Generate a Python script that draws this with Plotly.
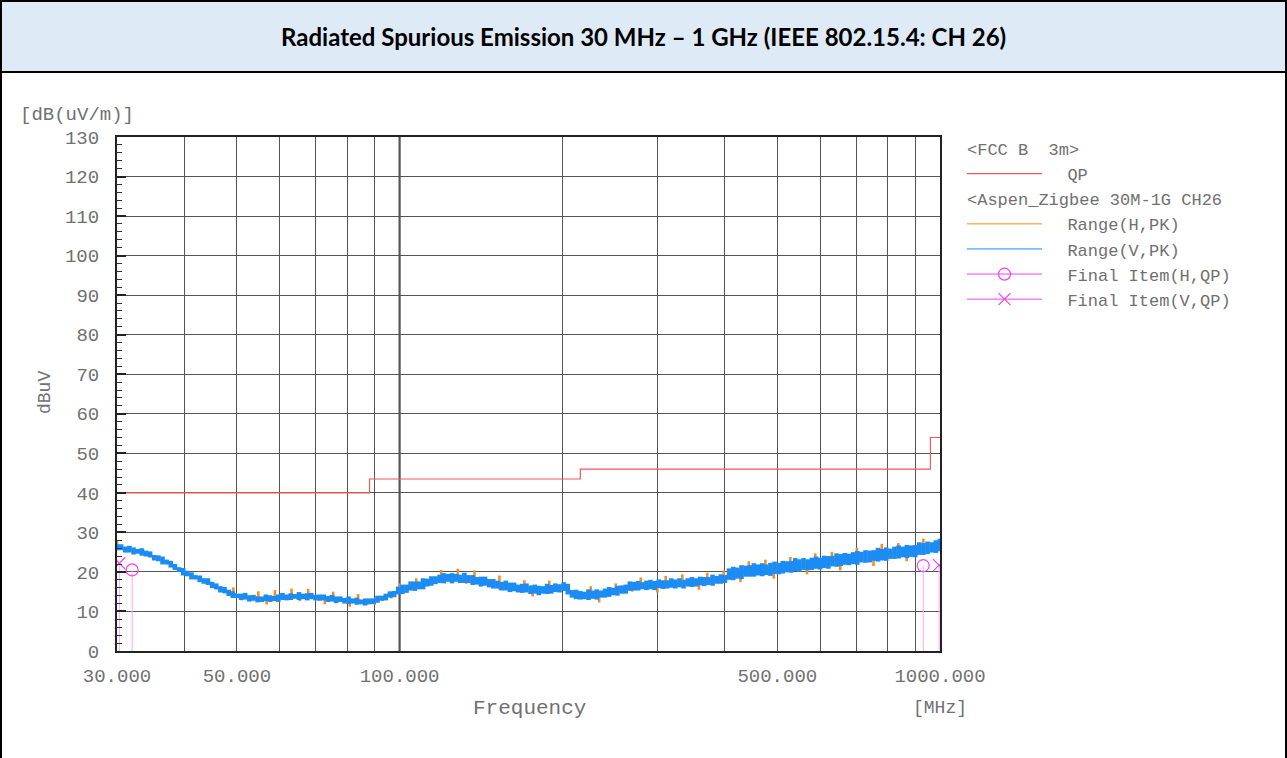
import numpy as np
import plotly.graph_objects as go

# ---------------- data ----------------
sweep_start_mhz = 30.0
sweep_stop_mhz = 1000.0

# Range(V,PK): per display bin max / min (dBuV), bins log-spaced 30 MHz .. 1 GHz
v_pk_max = [
    27.0, 27.0, 26.4, 26.6, 26.2, 25.8, 26.0, 25.4, 25.2, 24.3,
    24.2, 23.9, 23.1, 22.8, 22.0, 21.2, 21.0, 20.3, 19.9, 19.2,
    19.1, 18.4, 18.4, 17.5, 17.1, 16.4, 16.2, 15.5, 15.1, 14.5,
    14.5, 14.7, 14.1, 14.2, 13.8, 13.8, 14.3, 14.1, 13.9, 14.3,
    14.7, 14.3, 14.6, 14.4, 14.9, 14.5, 14.6, 14.7, 14.2, 14.3,
    14.3, 13.9, 14.2, 13.8, 13.8, 13.4, 13.8, 13.3, 13.5, 13.0,
    13.3, 13.3, 13.3, 14.0, 14.0, 14.5, 15.1, 15.2, 16.3, 16.8,
    16.8, 17.6, 17.6, 17.6, 18.4, 18.3, 18.9, 18.9, 19.3, 19.7,
    19.5, 19.7, 19.5, 19.3, 19.8, 19.2, 19.2, 18.7, 18.8, 18.8,
    18.2, 18.2, 17.8, 17.5, 17.8, 17.3, 17.3, 16.8, 17.0, 17.1,
    16.6, 16.8, 16.5, 16.4, 17.0, 16.7, 17.1, 16.9, 17.4, 17.0,
    15.4, 15.5, 15.2, 15.0, 15.6, 15.3, 15.6, 15.3, 15.8, 16.2,
    16.0, 16.5, 16.6, 16.8, 17.6, 17.5, 17.7, 17.4, 17.8, 18.0,
    17.7, 18.1, 17.9, 17.9, 18.4, 18.1, 18.4, 18.0, 18.4, 18.7,
    18.4, 18.8, 18.7, 18.7, 19.3, 19.0, 19.4, 19.2, 20.9, 21.3,
    21.1, 21.7, 21.6, 21.7, 22.2, 21.9, 22.2, 21.9, 22.3, 22.6,
    22.3, 22.8, 22.7, 22.8, 23.5, 23.2, 23.5, 23.2, 23.6, 23.9,
    23.6, 24.1, 24.0, 24.1, 24.7, 24.5, 24.8, 24.6, 25.0, 25.3,
    25.1, 25.5, 25.4, 25.5, 26.1, 25.8, 26.2, 25.9, 26.4, 26.7,
    26.4, 26.8, 26.7, 26.8, 27.5, 27.3, 27.7, 27.5, 28.0, 28.4,
]
v_pk_min = [
    25.5, 25.5, 24.9, 24.9, 24.4, 24.6, 24.1, 23.9, 23.7, 22.9,
    22.7, 21.9, 21.9, 21.1, 20.5, 20.0, 19.1, 18.9, 18.1, 18.1,
    17.4, 17.0, 16.7, 15.9, 15.6, 14.8, 14.6, 13.9, 13.4, 13.4,
    12.9, 13.0, 12.5, 12.7, 12.3, 12.4, 12.6, 12.4, 12.6, 12.4,
    12.9, 12.8, 12.9, 13.2, 12.9, 13.1, 12.8, 13.1, 12.8, 12.7,
    12.8, 12.4, 12.5, 12.1, 12.4, 12.0, 11.9, 12.0, 11.7, 11.8,
    11.5, 11.8, 11.9, 12.2, 12.7, 12.8, 13.5, 13.6, 14.3, 14.4,
    14.7, 15.3, 15.2, 15.6, 15.6, 16.3, 16.5, 16.9, 17.2, 17.1,
    17.5, 17.1, 17.5, 17.2, 17.2, 17.2, 16.7, 16.8, 16.3, 16.5,
    16.1, 15.8, 15.8, 15.3, 15.3, 14.9, 15.1, 14.8, 14.7, 14.8,
    14.4, 14.5, 14.1, 14.5, 14.4, 14.5, 14.9, 14.8, 15.2, 14.3,
    13.5, 13.1, 13.0, 13.1, 12.9, 13.2, 13.0, 13.5, 13.5, 13.7,
    14.1, 14.0, 14.5, 14.5, 15.2, 15.3, 15.3, 15.6, 15.4, 15.6,
    15.4, 15.9, 15.7, 15.8, 16.0, 15.8, 16.1, 15.8, 16.3, 16.2,
    16.3, 16.6, 16.4, 16.7, 16.5, 17.0, 17.0, 17.2, 18.0, 17.9,
    18.3, 18.2, 18.8, 18.8, 18.8, 19.1, 18.9, 19.2, 19.0, 19.5,
    19.4, 19.6, 19.9, 19.8, 20.2, 20.0, 20.5, 20.4, 20.5, 20.8,
    20.6, 21.0, 20.8, 21.4, 21.3, 21.5, 21.8, 21.7, 22.0, 21.8,
    22.4, 22.3, 22.4, 22.8, 22.6, 22.9, 22.8, 23.3, 23.3, 23.4,
    23.7, 23.5, 23.8, 23.7, 24.3, 24.3, 24.5, 24.9, 24.8, 25.2,
]

# Range(H,PK): per display bin max / min (dBuV)
h_pk_max = [
    27.8, 26.4, 26.0, 25.5, 24.9, 24.0, 23.1, 21.9, 20.6, 19.7,
    18.8, 17.9, 16.9, 15.8, 16.1, 14.4, 14.1, 15.1, 13.8, 15.4,
    14.1, 15.8, 14.4, 15.7, 14.2, 14.0, 15.0, 13.6, 13.3, 14.4,
    13.0, 13.3, 13.9, 14.8, 17.1, 16.5, 18.4, 17.5, 18.2, 20.5,
    19.1, 20.8, 18.9, 20.4, 18.2, 17.8, 19.1, 16.9, 16.7, 17.9,
    16.2, 16.1, 17.8, 16.4, 16.8, 15.0, 14.7, 16.4, 14.9, 15.2,
    17.1, 16.1, 16.7, 18.6, 17.2, 17.3, 19.0, 17.6, 19.4, 17.8,
    18.0, 19.8, 18.4, 20.4, 19.9, 20.3, 22.7, 21.0, 23.1, 21.3,
    21.6, 23.8, 22.2, 22.4, 24.7, 22.9, 25.1, 23.5, 23.8, 26.1,
    24.3, 24.6, 27.1, 25.1, 27.3, 25.7, 25.9, 28.4, 26.6, 27.2,
]
h_pk_min = [
    25.4, 25.2, 24.8, 24.3, 23.6, 22.8, 21.9, 20.6, 19.4, 18.5,
    17.6, 16.7, 15.6, 14.6, 13.6, 12.8, 12.9, 12.5, 11.8, 12.7,
    12.9, 13.1, 12.6, 13.1, 13.0, 11.8, 12.6, 12.4, 11.2, 11.9,
    11.8, 11.7, 12.7, 13.3, 14.6, 15.2, 15.8, 16.3, 17.0, 17.5,
    17.9, 17.8, 17.0, 17.3, 17.0, 16.6, 15.5, 15.7, 15.4, 15.2,
    13.8, 14.9, 14.9, 15.2, 15.6, 13.8, 13.5, 13.5, 12.3, 14.0,
    14.4, 14.9, 15.0, 15.9, 16.0, 14.8, 16.3, 16.4, 16.5, 16.6,
    15.5, 17.0, 17.2, 17.5, 18.7, 17.4, 19.5, 19.8, 19.9, 18.3,
    20.4, 20.7, 21.0, 19.4, 21.5, 21.7, 22.0, 20.4, 22.5, 22.8,
    23.1, 21.5, 23.6, 23.9, 24.2, 22.7, 24.7, 25.0, 25.4, 25.8,
]

# FCC class B 3 m quasi-peak limit
limit_freq_mhz = [30, 88, 216, 960, 1000]
limit_qp_dbuv = [40.0, 43.5, 46.0, 54.0, 54.0]

# Final measurement items
final_h_freq = [32.0, 931.0]
final_h_qp = [20.5, 21.6]
final_v_freq = [30.3, 996.0]
final_v_qp = [22.2, 21.7]

x_tick_vals = [30, 50, 100, 500, 1000]
x_tick_text = ["30.000", "50.000", "100.000", "500.000", "1000.000"]
x_minor_grid = [40, 60, 70, 80, 90, 200, 300, 400, 600, 700, 800, 900]

# ---------------- figure ----------------
freq_v = np.geomspace(sweep_start_mhz, sweep_stop_mhz, len(v_pk_max))
freq_h = np.geomspace(sweep_start_mhz, sweep_stop_mhz, len(h_pk_max))
v_hi, v_lo = np.array(v_pk_max), np.array(v_pk_min)
h_hi, h_lo = np.array(h_pk_max), np.array(h_pk_min)
v_mid, h_mid = (v_hi + v_lo) / 2, (h_hi + h_lo) / 2

MONO = "Liberation Mono, Courier New, monospace"
TXT = "#707070"
ORANGE = "#FF8A1C"
BLUE = "#1C8CF5"
RED = "#F05A5A"
MAG = "#EE44EE"
MAG_LIGHT = "#FFA6FF"
PAD = "\u00a0" * 2


def gapped(xs, ys):
    gx, gy = [], []
    for i, (a, b) in enumerate(zip(xs, ys)):
        if i:
            gx.append(None)
            gy.append(None)
        gx.append(a)
        gy.append(b)
    return gx, gy


fig = go.Figure()

fig.add_trace(go.Scatter(
    x=limit_freq_mhz, y=limit_qp_dbuv, mode="lines", line=dict(color=RED, width=1.2, shape="hv"),
    name=PAD + "QP", legendgroup="fcc", legendgrouptitle_text="&lt;FCC B\u00a0\u00a03m>",
))

fig.add_trace(go.Scatter(
    x=freq_h, y=h_mid, mode="lines", line=dict(color=ORANGE, width=1),
    error_y=dict(type="data", symmetric=False, array=h_hi - h_mid, arrayminus=h_mid - h_lo,
                 color=ORANGE, thickness=2.6, width=0),
    name=PAD + "Range(H,PK)", legendgroup="aspen",
    legendgrouptitle_text="&lt;Aspen_Zigbee 30M-1G CH26",
))
fig.add_trace(go.Scatter(
    x=freq_v, y=v_mid, mode="lines", line=dict(color=BLUE, width=1),
    error_y=dict(type="data", symmetric=False, array=v_hi - v_mid, arrayminus=v_mid - v_lo,
                 color=BLUE, thickness=4.6, width=0),
    name=PAD + "Range(V,PK)", legendgroup="aspen",
))

hx, hy = gapped(final_h_freq, final_h_qp)
fig.add_trace(go.Scatter(
    x=hx, y=hy, mode="lines+markers", connectgaps=False,
    line=dict(color=MAG, width=1),
    marker=dict(symbol="circle-open", size=12, color=MAG, line=dict(width=1.2, color=MAG)),
    error_y=dict(type="data", symmetric=False, array=[0 if v is not None else None for v in hy],
                 arrayminus=hy, color=MAG_LIGHT, thickness=1, width=0),
    name=PAD + "Final Item(H,QP)", legendgroup="aspen",
))
vx, vy = gapped(final_v_freq, final_v_qp)
fig.add_trace(go.Scatter(
    x=vx, y=vy, mode="lines+markers", connectgaps=False,
    line=dict(color=MAG, width=1),
    marker=dict(symbol="x-thin-open", size=12, color=MAG, line=dict(width=1.2, color=MAG)),
    error_y=dict(type="data", symmetric=False, array=[0 if v is not None else None for v in vy],
                 arrayminus=vy, color=MAG_LIGHT, thickness=1, width=0),
    name=PAD + "Final Item(V,QP)", legendgroup="aspen",
))

# plot area in px: x 117..940, y 137..651 ; page 1287x758
L, R, T, B = 117, 347, 137, 107
PW, PH = 1287 - L - R, 758 - T - B


def px(xp):
    return (xp - L) / PW


def py(yp):
    return (758 - B - yp) / PH


shapes = [
    # header band
    dict(type="rect", xref="paper", yref="paper", x0=px(0), x1=px(1287), y0=py(72), y1=py(0),
         fillcolor="#DEEAF6", line=dict(width=0), layer="below"),
    dict(type="line", xref="paper", yref="paper", x0=px(0), x1=px(1287), y0=py(1), y1=py(1),
         line=dict(color="black", width=2)),
    dict(type="line", xref="paper", yref="paper", x0=px(0), x1=px(1287), y0=py(72), y1=py(72),
         line=dict(color="black", width=2)),
    dict(type="line", xref="paper", yref="paper", x0=px(1), x1=px(1), y0=py(0), y1=py(758),
         line=dict(color="black", width=2)),
    dict(type="line", xref="paper", yref="paper", x0=px(1286), x1=px(1286), y0=py(0), y1=py(758),
         line=dict(color="black", width=2)),
    # emphasised decade grid line at 100 MHz
    dict(type="line", xref="x", yref="paper", x0=100, x1=100, y0=0, y1=1,
         line=dict(color="#333333", width=2), layer="below"),
]

annotations = [
    dict(text="<b>Radiated Spurious Emission 30 MHz – 1 GHz (IEEE 802.15.4: CH 26)</b>",
         xref="paper", yref="paper", x=px(643.5), y=py(36), showarrow=False,
         font=dict(family="Lato, Open Sans, sans-serif", size=24, color="black"),
         xanchor="center", yanchor="middle"),
    dict(text="[dB(uV/m)]", xref="paper", yref="paper", x=px(18), y=py(115), showarrow=False,
         font=dict(family=MONO, size=19, color=TXT), xanchor="left", yanchor="middle"),
    dict(text="dBuV", xref="paper", yref="paper", x=px(45), y=py(393), showarrow=False,
         textangle=-90, font=dict(family=MONO, size=18, color=TXT), xanchor="center", yanchor="middle"),
    dict(text="Frequency", xref="paper", yref="paper", x=px(529), y=py(708), showarrow=False,
         font=dict(family=MONO, size=21, color=TXT), xanchor="center", yanchor="middle"),
    dict(text="[MHz]", xref="paper", yref="paper", x=px(940), y=py(708), showarrow=False,
         font=dict(family=MONO, size=18, color=TXT), xanchor="center", yanchor="middle"),
]

fig.update_layout(
    width=1287, height=758,
    margin=dict(l=L, r=R, t=T, b=B, autoexpand=False),
    paper_bgcolor="white", plot_bgcolor="white",
    shapes=shapes, annotations=annotations,
    showlegend=True,
    legend=dict(x=px(962), y=py(131), xanchor="left", yanchor="top",
                font=dict(family=MONO, size=17, color=TXT),
                grouptitlefont=dict(family=MONO, size=17, color=TXT),
                tracegroupgap=0, itemwidth=75, bgcolor="rgba(0,0,0,0)",
                itemclick=False, itemdoubleclick=False),
)

fig.update_xaxes(
    type="log", range=[np.log10(sweep_start_mhz), np.log10(sweep_stop_mhz)],
    tickmode="array", tickvals=x_tick_vals, ticktext=x_tick_text,
    tickfont=dict(family=MONO, size=19, color=TXT), ticks="", ticklabelstandoff=6,
    showgrid=True, gridcolor="#555555", gridwidth=1,
    minor=dict(tickmode="array", tickvals=x_minor_grid, showgrid=True, gridcolor="#555555",
               gridwidth=1, ticks=""),
    showline=True, linecolor="#222222", linewidth=2, mirror=True, zeroline=False,
)
fig.update_yaxes(
    range=[0, 130], tickmode="linear", tick0=0, dtick=10,
    tickfont=dict(family=MONO, size=19, color=TXT), ticks="inside", ticklen=9, tickwidth=2,
    tickcolor="#222222", ticklabelstandoff=12,
    minor=dict(dtick=2, ticks="inside", ticklen=5, tickwidth=1, tickcolor="#333333", showgrid=False),
    showgrid=True, gridcolor="#555555", gridwidth=1,
    showline=True, linecolor="#222222", linewidth=2, mirror=True, zeroline=False,
)

fig.write_html(
    "out.html",
    config={"displayModeBar": False},
    post_script="document.body.style.margin='0';document.body.style.overflow='hidden';",
)
